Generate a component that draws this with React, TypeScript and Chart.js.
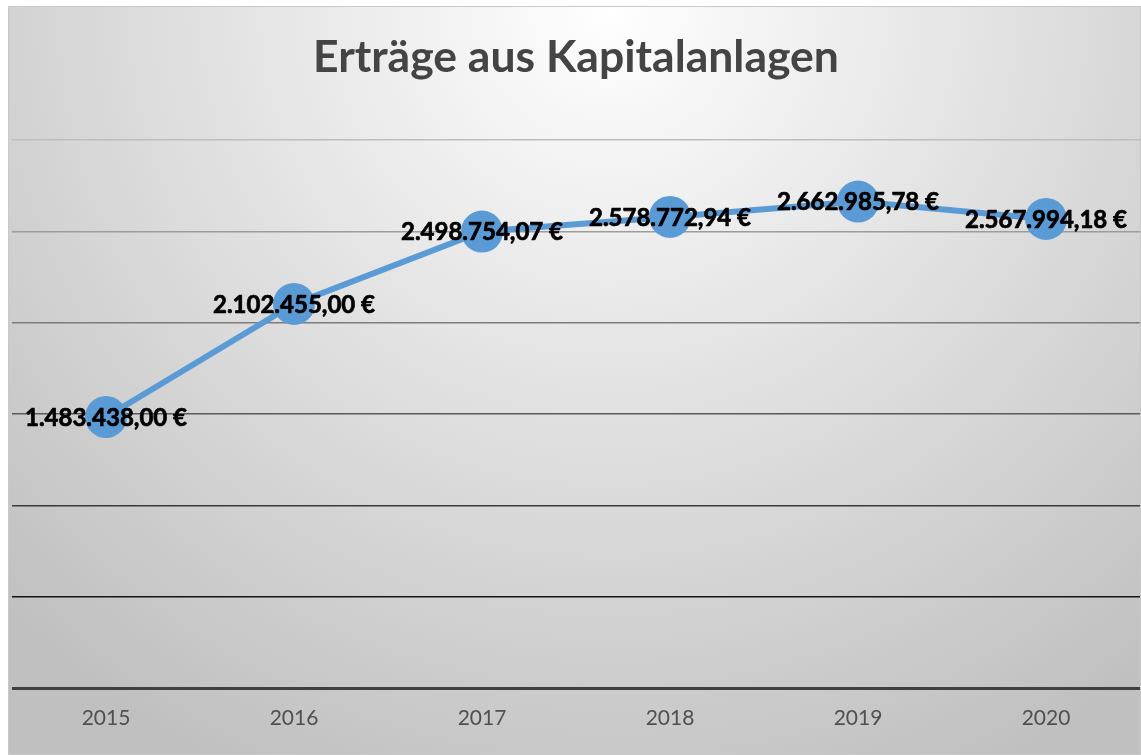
import React, { useEffect, useRef } from "react";
import { Chart, registerables } from "chart.js";

Chart.register(...registerables);

const TITLE = "Erträge aus Kapitalanlagen";
const YEARS = ["2015", "2016", "2017", "2018", "2019", "2020"];
const VALUES = [1483438.0, 2102455.0, 2498754.07, 2578772.94, 2662985.78, 2567994.18];
const Y_MIN = 0;
const Y_MAX = 3000000;
const Y_STEP = 500000;
const GRID_COLORS: Record<number, string> = {
  0: "#404040",
  500000: "#151515",
  1000000: "#3a3a3a",
  1500000: "#5a5a5a",
  2000000: "#7c7c7c",
  2500000: "#9c9c9c",
  3000000: "#bdbdbd",
};

const formatEuro = (v: number) =>
  v.toLocaleString("de-DE", { minimumFractionDigits: 2, maximumFractionDigits: 2 }) + " €";

const bgPlugin = {
  id: "bgGradient",
  beforeDraw(chart: any) {
    const { ctx, width, height } = chart;
    ctx.save();
    const g = ctx.createRadialGradient(width * 0.53, 0, 0, width * 0.53, 0, 850);
    g.addColorStop(0, "#ffffff");
    g.addColorStop(1, "#c0c0c0");
    ctx.fillStyle = g;
    ctx.fillRect(0, 0, width, height);
    ctx.strokeStyle = "#c8c8c8";
    ctx.lineWidth = 1;
    ctx.strokeRect(0.5, 0.5, width - 1, height - 1);
    ctx.restore();
  },
};

const labelPlugin = {
  id: "valueLabels",
  afterDatasetsDraw(chart: any) {
    const { ctx } = chart;
    const meta = chart.getDatasetMeta(0);
    ctx.save();
    ctx.font = "bold 24px Lato, 'Open Sans', sans-serif";
    ctx.fillStyle = "#000000";
    ctx.strokeStyle = "#000000";
    ctx.lineWidth = 0.7;
    ctx.lineJoin = "round";
    ctx.textAlign = "center";
    ctx.textBaseline = "middle";
    meta.data.forEach((pt: any, i: number) => {
      const t = formatEuro(VALUES[i]);
      ctx.fillText(t, pt.x, pt.y + 1);
      ctx.strokeText(t, pt.x, pt.y + 1);
    });
    ctx.restore();
  },
};

export default function App() {
  const ref = useRef<HTMLCanvasElement | null>(null);
  useEffect(() => {
    if (!ref.current) return;
    const chart = new Chart(ref.current, {
      type: "line",
      data: {
        labels: YEARS,
        datasets: [
          {
            data: VALUES,
            borderColor: "#5B9BD5",
            backgroundColor: "#5B9BD5",
            borderWidth: 6,
            pointRadius: 21,
            pointHoverRadius: 21,
            pointBackgroundColor: "#5B9BD5",
            pointBorderWidth: 0,
            tension: 0,
            clip: false,
          },
        ],
      },
      options: {
        animation: false,
        responsive: false,
        maintainAspectRatio: false,
        layout: { autoPadding: false, padding: { left: 4, right: 1, top: 0, bottom: 7 } },
        plugins: {
          legend: { display: false },
          tooltip: { enabled: false },
          title: {
            display: true,
            text: TITLE,
            color: "#444444",
            font: { family: "Lato, 'Open Sans', sans-serif", size: 44.5, weight: "bold" },
            padding: { top: 25, bottom: 55.6 },
          },
        },
        scales: {
          x: {
            offset: true,
            grid: { display: false, drawTicks: false },
            border: { display: false },
            afterFit: (s: any) => {
              s.height = 60;
            },
            ticks: {
              color: "#505050",
              padding: 0,
              maxRotation: 0,
              font: { family: "Lato, 'Open Sans', sans-serif", size: 21, lineHeight: 2.86 },
            },
          },
          y: {
            min: Y_MIN,
            max: Y_MAX,
            ticks: { display: false, stepSize: Y_STEP },
            border: { display: false },
            afterFit: (s: any) => {
              s.width = 0;
            },
            grid: {
              drawTicks: false,
              color: (c: any) => GRID_COLORS[c.tick?.value] ?? "#888888",
              lineWidth: (c: any) => (c.tick?.value === 0 ? 3 : 1.6),
            },
          },
        },
      } as any,
      plugins: [bgPlugin, labelPlugin],
    });
    return () => chart.destroy();
  }, []);
  return (
    <div style={{ position: "absolute", left: 8, top: 6, width: 1133, height: 749 }}>
      <canvas ref={ref} width={1133} height={749} style={{ display: "block" }} />
    </div>
  );
}
